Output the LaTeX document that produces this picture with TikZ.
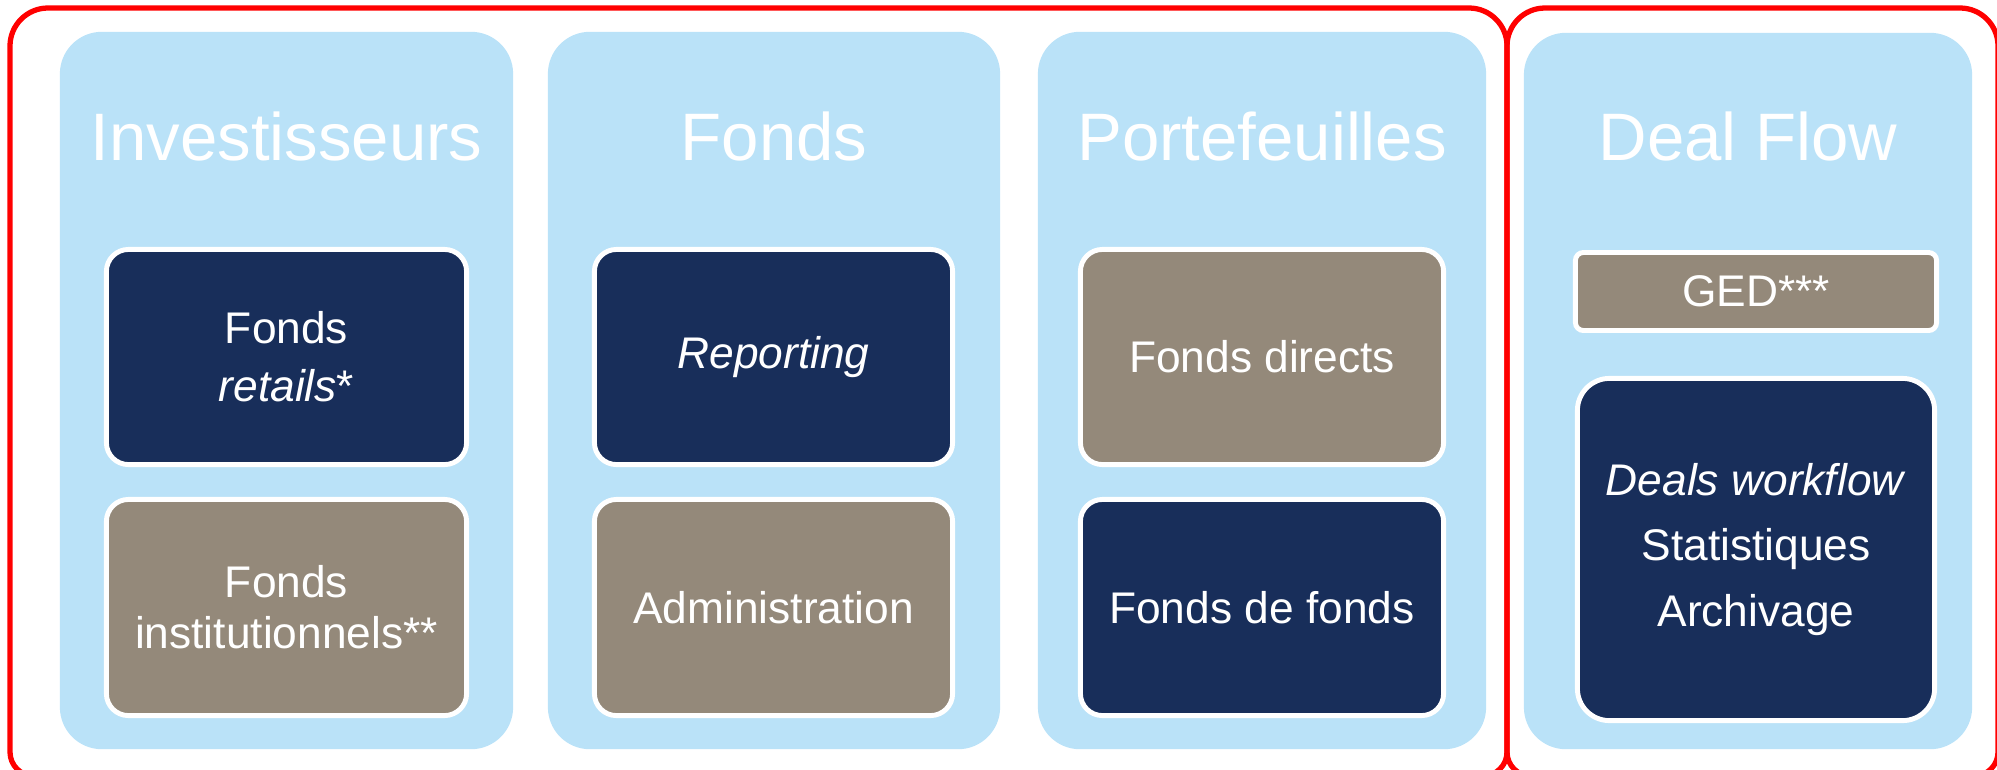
\documentclass[tikz,border=0pt]{standalone}
\usepackage{fontspec}
\setmainfont{Liberation Sans}
\definecolor{lightcol}{RGB}{186,226,248}
\definecolor{navy}{RGB}{24,46,90}
\definecolor{taupe}{RGB}{148,137,122}
\begin{document}
\begin{tikzpicture}[x=0.01cm,y=-0.01cm,
  colbox/.style={fill=lightcol, draw=none, rounded corners=0.42cm, inner sep=0pt},
  titletext/.style={text=white, font=\fontsize{19.1}{23}\selectfont, anchor=base, inner sep=0pt},
  inbox/.style={draw=white, line width=1.4pt, rounded corners=0.22cm, text=white, align=center,
    font=\fontsize{12.6}{17}\selectfont, inner sep=0pt},
  navybox/.style={inbox, fill=navy},
  taupebox/.style={inbox, fill=taupe},
  frameline/.style={draw=red, line width=1.5pt}]
\useasboundingbox (0,0) rectangle (1997,769);

% columns
\node[colbox, minimum width=4.53cm, minimum height=7.17cm] (col1) at (286.5,390.5) {};
\node[colbox, minimum width=4.52cm, minimum height=7.17cm] (col2) at (774,390.5) {};
\node[colbox, minimum width=4.48cm, minimum height=7.17cm] (col3) at (1262,390.5) {};
\node[colbox, minimum width=4.48cm, minimum height=7.16cm] (col4) at (1748,391) {};

% titles
\node[titletext] (t1) at (286.5,160) {Investisseurs};
\node[titletext] (t2) at (774,160) {Fonds};
\node[titletext] (t3) at (1262,160) {Portefeuilles};
\node[titletext] (t4) at (1748,160) {Deal Flow};

% inner boxes
\node[navybox, minimum width=3.60cm, minimum height=2.15cm, font=\fontsize{12.6}{16.5}\selectfont] (b11) at (286.5,357) {Fonds\\\textit{retails}*};
\node[taupebox, minimum width=3.60cm, minimum height=2.16cm, font=\fontsize{12.6}{14.5}\selectfont] (b12) at (286.5,607.5) {Fonds\\institutionnels**};
\node[navybox, minimum width=3.58cm, minimum height=2.15cm] (b21) at (773.5,357) {\textit{Reporting}};
\node[taupebox, minimum width=3.58cm, minimum height=2.16cm] (b22) at (773.5,607.5) {Administration};
\node[taupebox, minimum width=3.63cm, minimum height=2.15cm] (b31) at (1262,357) {Fonds directs};
\node[navybox, minimum width=3.63cm, minimum height=2.16cm] (b32) at (1262,607.5) {Fonds de fonds};
\node[taupebox, minimum width=3.61cm, minimum height=0.78cm, rounded corners=0.08cm] (b41) at (1756,291.5) {GED***};
\node[navybox, minimum width=3.57cm, minimum height=3.42cm, rounded corners=0.32cm, font=\fontsize{12.6}{18.6}\selectfont] (b42) at (1756,549.5) {\textit{Deals workflow}\\Statistiques\\Archivage};

% red frames
\draw[frameline] (10,752) -- (10,46) arc[start angle=180,end angle=270,radius=38]
  -- (1469,8) arc[start angle=270,end angle=360,radius=38]
  -- (1507,752) arc[start angle=0,end angle=90,radius=24]
  -- (34,776) arc[start angle=90,end angle=180,radius=24] -- cycle;
\draw[frameline] (1507,752) -- (1507,46) arc[start angle=180,end angle=270,radius=38]
  -- (1960,8) arc[start angle=270,end angle=360,radius=38]
  -- (1998,752) arc[start angle=0,end angle=90,radius=24]
  -- (1531,776) arc[start angle=90,end angle=180,radius=24] -- cycle;
\end{tikzpicture}
\end{document}
